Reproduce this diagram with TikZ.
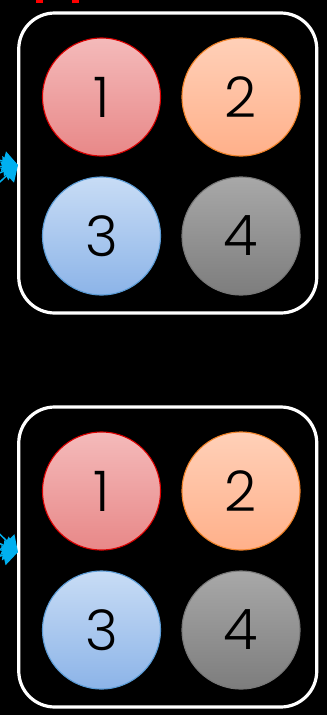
\documentclass[tikz,border=0pt]{standalone}
\usepackage{fontspec}
\setmainfont{Poppins}[UprightFont=* Light]
\usetikzlibrary{arrows.meta}
\definecolor{cy}{HTML}{00B0F0}
\tikzset{
  grp/.style={draw=white, line width=3.2pt, rounded corners=36pt, minimum width=298pt, minimum height=300pt, inner sep=0pt},
  ball/.style={circle, minimum size=118pt, inner sep=0pt, line width=1.1pt, font=\fontsize{56}{60}\selectfont, text=black},
  b1/.style={ball, draw=red!85!black, top color={rgb,255:red,244;green,186;blue,186}, bottom color={rgb,255:red,232;green,136;blue,136}},
  b2/.style={ball, draw={rgb,255:red,240;green,130;blue,40}, top color={rgb,255:red,255;green,208;blue,184}, bottom color={rgb,255:red,255;green,176;blue,138}},
  b3/.style={ball, draw={rgb,255:red,91;green,155;blue,213}, top color={rgb,255:red,200;green,220;blue,245}, bottom color={rgb,255:red,140;green,180;blue,232}},
  b4/.style={ball, draw={rgb,255:red,120;green,120;blue,120}, top color={rgb,255:red,168;green,168;blue,168}, bottom color={rgb,255:red,125;green,125;blue,125}},
  feed/.style={draw=cy, line width=1.5pt, -{Triangle[length=15pt,width=20pt]}},
}
\begin{document}
\begin{tikzpicture}[x=1pt,y=-1pt]
\fill[black] (0,0) rectangle (327,715);
\useasboundingbox (0,0) rectangle (327,715);
% red fragments at top
\fill[red] (36,0) rectangle (43,3);
\fill[red] (72,0) rectangle (79,3);
% top group
\node[grp] (g1) at (167.75,163) {};
\node[b1] (a1) at (101.5,97) {1};
\node[b2] (a2) at (241,97) {2};
\node[b3] (a3) at (101.5,236) {3};
\node[b4] (a4) at (241,236) {4};
% bottom group
\node[grp] (g2) at (167.75,557) {};
\node[b1] (c1) at (101.5,491) {1};
\node[b2] (c2) at (241,491) {2};
\node[b3] (c3) at (101.5,630) {3};
\node[b4] (c4) at (241,630) {4};
% feed arrows
\coordinate (t1) at (18,165);
\coordinate (s1) at (-40,150);
\coordinate (s2) at (-40,170);
\coordinate (s3) at (-40,190);
\coordinate (s4) at (-30,210);
\foreach \s in {s1,s2,s3,s4} \draw[feed] (\s) -- (t1);
\coordinate (t2) at (18,552);
\coordinate (u1) at (-30,505);
\coordinate (u2) at (-40,525);
\coordinate (u3) at (-40,545);
\coordinate (u4) at (-40,565);
\foreach \s in {u1,u2,u3,u4} \draw[feed] (\s) -- (t2);
\end{tikzpicture}
\end{document}
